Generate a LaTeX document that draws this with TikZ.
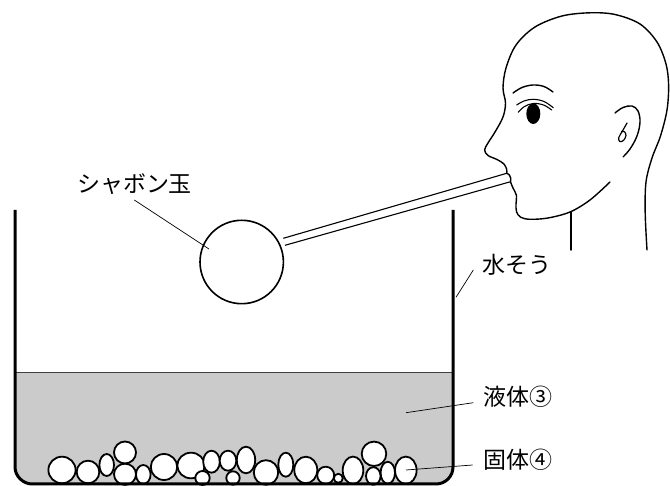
\documentclass[tikz,border=0pt]{standalone}
\usepackage{fontspec}
\newfontfamily\jpfont{Noto Sans CJK JP}
\definecolor{liquidgray}{HTML}{CACBCA}
\begin{document}
\begin{tikzpicture}[x=1pt,y=-1pt,
  wall/.style={line width=3pt,line join=round},
  surface/.style={line width=0.8pt,black!75},
  grain/.style={draw,fill=white,line width=1.8pt},
  face/.style={line width=1.4pt,line cap=round,line join=round},
  straw/.style={line width=1.1pt},
  leader/.style={line width=0.7pt},
  tag/.style={font=\jpfont\fontsize{23}{24}\selectfont,inner sep=0pt,anchor=center}]
\useasboundingbox (0,0) rectangle (670,486);

% liquid in the tank
\fill[liquidgray] (15,372.7) -- (15,467) .. controls (15,476.4) and (23.4,484) .. (32,484)
  -- (436,484) .. controls (445.4,484) and (453,476.4) .. (453,467) -- (453,372.7) -- cycle;
\draw[surface] (15,372.7) -- (453,372.7);

% solid grains on the bottom
\foreach \cx/\cy/\rx/\ry in {
  62/470/13.6/13.3, 88/472/11.3/11.3, 106.7/465/7.3/11, 125/452.5/11/11,
  125/474.3/11/10.6, 143.3/474.5/7.3/9.5, 164/467/13.2/13, 191/465.5/13.7/12.8,
  202.5/478/7.2/7, 211.5/461.7/8.3/11, 228/460.7/8.3/10, 233/478/6.7/6.7,
  246/460/9.2/13.3, 266/472.5/12.2/12.3, 285.8/464.7/7.5/12, 305.8/470/11.5/13.3,
  325.7/475.3/8.5/8.6, 338.3/478.3/4.5/4.5, 353/470.3/10.3/13.7, 374/453.8/12.3/12.2,
  373.3/476/7.3/8.8, 387.8/472.8/7.2/11, 405.8/470.3/10.8/13.7}
  \draw[grain] (\cx,\cy) ellipse [x radius=\rx, y radius=\ry];

% tank walls
\draw[wall] (15,210) -- (15,467) .. controls (15,476.4) and (23.4,484) .. (32,484)
  -- (436,484) .. controls (445.4,484) and (453,476.4) .. (453,467) -- (453,210);

% soap bubble and straw
\node[circle,draw,line width=1.6pt,minimum size=83.4pt,inner sep=0pt] (bubble) at (241.7,262) {};
\coordinate (strawA1) at (283.3,238.3);
\coordinate (strawA2) at (506.7,173.3);
\coordinate (strawB1) at (285,245.3);
\coordinate (strawB2) at (510.6,181.7);
\draw[straw] (strawA1) -- (strawA2);
\draw[straw] (strawB1) -- (strawB2);

% head in profile
\draw[face] plot[smooth,tension=0.55] coordinates {
  (647,250) (645.2,213) (646,182) (652,158) (660.5,136) (667,110) (668.6,85)
  (666,64) (657,42) (640,24) (615,14.5) (590,12.8) (562,16) (535,27) (516,45)
  (506,68) (503,88) (505.5,103) (503,117) (495,132) (488,143) (484.6,150)
  (488,155.5) (497,159.5) (504,164) (506.7,169.5) (506.7,173.3)};
\draw[face] plot[smooth,tension=0.55] coordinates {
  (506.7,173.3) (509.4,175) (510.8,178.5) (510.5,181.7) (513,188) (516.5,195.5)
  (516,204) (516.6,212) (520.8,217.3) (530,219.3) (548,218) (570,212)
  (590,200) (610,182)};
\coordinate (neckTop) at (571,211.5);
\coordinate (neckEnd) at (571,250);
\draw[face] (neckTop) -- (neckEnd);

% ear
\draw[face] plot[smooth,tension=0.6] coordinates {
  (615,113) (623,107.5) (632,106) (638,111) (640,122) (637,136) (630,149) (623,157)};
\draw[face,line width=1.2pt] plot[smooth,tension=0.6] coordinates {
  (627,123) (622.5,131) (618.8,137.5) (619.8,141.6) (623.6,140.3) (626,135.5) (624.5,131.8) (621.5,131.5)};

% eyebrow, eyelids and eye
\draw[face] plot[smooth,tension=0.6] coordinates {(513,93) (522,87.5) (533,85) (544,86.5) (553,92)};
\draw[face,line width=1.1pt] plot[smooth,tension=0.6] coordinates {(516.7,105) (524,101) (533.3,99.3) (544,101.5) (553.3,107.7)};
\draw[face,line width=1.1pt] plot[smooth,tension=0.6] coordinates {(518.3,112.2) (524.5,106.5) (533.3,103.5) (543.5,105) (551.7,110)};
\fill (533.3,113.7) ellipse [x radius=7, y radius=10.3];

% labels and leaders
\node[tag] (lblBubble) at (134.5,184) {シャボン玉};
\coordinate (lblBubbleFoot) at (134.3,200);
\coordinate (bubblePoint) at (209,249);
\draw[leader] (lblBubbleFoot) -- (bubblePoint);

\node[tag] (lblTank) at (517,265) {水そう};
\coordinate (tankFoot) at (473.3,270);
\coordinate (tankPoint) at (456,297.3);
\draw[leader] (tankFoot) -- (tankPoint);

\node[tag] (lblLiquid) at (517.5,397) {液体③};
\coordinate (liquidFoot) at (473.3,402.7);
\coordinate (liquidPoint) at (406,412.7);
\draw[leader] (liquidFoot) -- (liquidPoint);

\node[tag] (lblSolid) at (517.5,460) {固体④};
\coordinate (solidFoot) at (472.7,465);
\coordinate (solidPoint) at (406,470);
\draw[leader] (solidFoot) -- (solidPoint);
\end{tikzpicture}
\end{document}
